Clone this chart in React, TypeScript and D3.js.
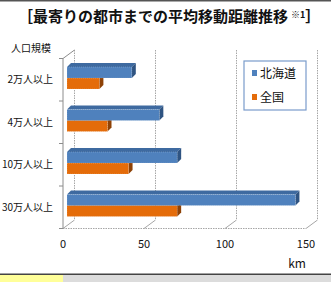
import { useEffect, useRef } from 'react';
import * as d3 from 'd3';

const categories = ['2万人以上', '4万人以上', '10万人以上', '30万人以上'];
const seriesNames = ['北海道', '全国'];
const hokkaido = [40, 57, 68, 141];
const zenkoku = [20, 25, 38, 68];
const xTicks = [0, 50, 100, 150];

const FONT = '"Noto Sans CJK JP", "Noto Sans", sans-serif';

const colors = {
  北海道: { front: '#4F81BD', top: '#3E6AA0', side: '#2F5482' },
  全国: { front: '#E46C0A', top: '#B85608', side: '#8E4206' }
} as Record<string, { front: string; top: string; side: string }>;

export default function App() {
  const ref = useRef<SVGSVGElement | null>(null);

  useEffect(() => {
    if (!ref.current) return;
    const svg = d3.select(ref.current);
    svg.selectAll('*').remove();

    const width = 331;
    const height = 282;
    // depth offset of the 3D floor / walls
    const depth = { dx: 11.5, dy: -8.5 };
    const barDepth = { dx: 4, dy: -4 };

    const xScale = d3.scaleLinear().domain([0, 150]).range([63, 306]);
    const yScale = d3.scaleBand<string>().domain(categories).range([58.5, 228.5]);
    const subScale = d3.scaleBand<string>().domain(seriesNames).range([8.5, 30.5]);

    svg.append('rect').attr('width', width).attr('height', height).attr('fill', 'white');

    // top border
    svg.append('rect').attr('x', 0).attr('y', 0).attr('width', width).attr('height', 1.5).attr('fill', '#555');

    // bottom strip
    svg.append('rect').attr('x', 0).attr('y', 273.5).attr('width', width).attr('height', 1.5).attr('fill', '#444');
    svg.append('rect').attr('x', 0).attr('y', 275).attr('width', width).attr('height', 7).attr('fill', '#DCDCDC');
    svg.append('rect').attr('x', 0).attr('y', 275).attr('width', 63).attr('height', 7).attr('fill', '#FFFF99');

    // title
    const title = svg
      .append('text')
      .attr('x', 18)
      .attr('y', 22)
      .style('font-family', FONT)
      .style('font-weight', 'bold')
      .style('font-size', '15px')
      .style('fill', '#111');
    title.append('tspan').text('［最寄りの都市までの平均移動距離推移');
    title.append('tspan').attr('dx', 3).attr('dy', -4).style('font-size', '9px').text('※1');
    title.append('tspan').attr('dy', 4).text('］');

    const g = svg.append('g');
    const yTop = 50;
    const y0 = yScale.range()[1];

    // back wall grid lines
    xTicks.forEach((t) => {
      g.append('line')
        .attr('x1', xScale(t) + depth.dx)
        .attr('x2', xScale(t) + depth.dx)
        .attr('y1', yTop)
        .attr('y2', y0 + depth.dy)
        .attr('stroke', '#A6A6A6')
        .attr('stroke-width', 1)
        .attr('stroke-dasharray', '1.5,1');
      // floor slants
      g.append('line')
        .attr('x1', xScale(t))
        .attr('x2', xScale(t) + depth.dx)
        .attr('y1', y0)
        .attr('y2', y0 + depth.dy)
        .attr('stroke', '#A6A6A6')
        .attr('stroke-width', 1);
    });

    // floor front line
    g.append('line')
      .attr('x1', xScale(0))
      .attr('x2', xScale(150))
      .attr('y1', y0)
      .attr('y2', y0)
      .attr('stroke', '#A6A6A6')
      .attr('stroke-width', 1)
      .attr('stroke-dasharray', '1.5,1');

    // left axis
    g.append('line')
      .attr('x1', xScale(0))
      .attr('x2', xScale(0))
      .attr('y1', yScale.range()[0])
      .attr('y2', y0)
      .attr('stroke', '#8C8C8C')
      .attr('stroke-width', 1);
    g.append('line')
      .attr('x1', xScale(0))
      .attr('x2', xScale(0) + depth.dx)
      .attr('y1', yScale.range()[0])
      .attr('y2', yScale.range()[0] + depth.dy)
      .attr('stroke', '#8C8C8C')
      .attr('stroke-width', 1);
    [...categories.map((c) => yScale(c) as number), y0].forEach((yy) => {
      g.append('line')
        .attr('x1', xScale(0) - 4)
        .attr('x2', xScale(0))
        .attr('y1', yy)
        .attr('y2', yy)
        .attr('stroke', '#8C8C8C')
        .attr('stroke-width', 1);
    });

    // bars
    const rows = categories.map((c, i) => ({ cat: c, values: [hokkaido[i], zenkoku[i]] }));
    // draw bottom series first so the top face of upper bar sits over it
    rows.forEach((row) => {
      const b = yScale(row.cat) as number;
      [1, 0].forEach((si) => {
        const name = seriesNames[si];
        const c = colors[name];
        const x0 = xScale(0) + barDepth.dx;
        const x1 = xScale(row.values[si]) + barDepth.dx;
        const top = b + (subScale(name) as number);
        const h = subScale.bandwidth();
        const { dx, dy } = barDepth;
        // top face
        g.append('path')
          .attr('d', `M${x0},${top}L${x0 + dx},${top + dy}L${x1 + dx},${top + dy}L${x1},${top}Z`)
          .attr('fill', c.top);
        // side face
        g.append('path')
          .attr('d', `M${x1},${top}L${x1 + dx},${top + dy}L${x1 + dx},${top + h + dy}L${x1},${top + h}Z`)
          .attr('fill', c.side);
        // front face
        g.append('rect')
          .attr('x', x0)
          .attr('y', top)
          .attr('width', x1 - x0)
          .attr('height', h)
          .attr('fill', c.front)
          .attr('stroke', 'rgba(255,255,255,0.35)')
          .attr('stroke-width', 0.6)
          .attr('stroke-dasharray', '1,1');
      });
    });

    // category labels
    categories.forEach((c) => {
      g.append('text')
        .attr('x', 53)
        .attr('y', (yScale(c) as number) + yScale.bandwidth() / 2 - 1)
        .attr('text-anchor', 'end')
        .attr('dominant-baseline', 'central')
        .style('font-family', FONT)
        .style('font-size', '10px')
        .style('fill', '#111')
        .text(c);
    });

    g.append('text')
      .attr('x', 31)
      .attr('y', 47)
      .attr('text-anchor', 'middle')
      .attr('dominant-baseline', 'central')
      .style('font-family', FONT)
      .style('font-size', '10px')
      .style('fill', '#111')
      .text('人口規模');

    // x tick labels
    xTicks.forEach((t) => {
      g.append('text')
        .attr('x', xScale(t))
        .attr('y', 243)
        .attr('text-anchor', 'middle')
        .attr('dominant-baseline', 'central')
        .style('font-family', FONT)
        .style('font-size', '11px')
        .style('fill', '#111')
        .text(String(t));
    });

    g.append('text')
      .attr('x', 297)
      .attr('y', 262)
      .attr('text-anchor', 'middle')
      .attr('dominant-baseline', 'central')
      .style('font-family', FONT)
      .style('font-size', '12px')
      .style('fill', '#111')
      .text('km');

    // legend
    const legend = svg.append('g').attr('transform', 'translate(244, 61)');
    legend
      .append('rect')
      .attr('width', 62)
      .attr('height', 49)
      .attr('fill', 'white')
      .attr('stroke', '#7A9CCB')
      .attr('stroke-width', 1.2);
    seriesNames.forEach((name, i) => {
      const item = legend.append('g').attr('transform', `translate(0, ${11 + i * 24})`);
      item
        .append('rect')
        .attr('x', 8)
        .attr('y', -2)
        .attr('width', 5)
        .attr('height', 6)
        .attr('fill', colors[name].front);
      item
        .append('text')
        .attr('x', 16)
        .attr('y', 0)
        .attr('dominant-baseline', 'central')
        .style('font-family', FONT)
        .style('font-size', '12px')
        .style('fill', '#111')
        .text(name);
    });
  }, []);

  return (
    <svg
      ref={ref}
      width={331}
      height={282}
      style={{ position: 'absolute', left: 0, top: 0, display: 'block' }}
    />
  );
}
